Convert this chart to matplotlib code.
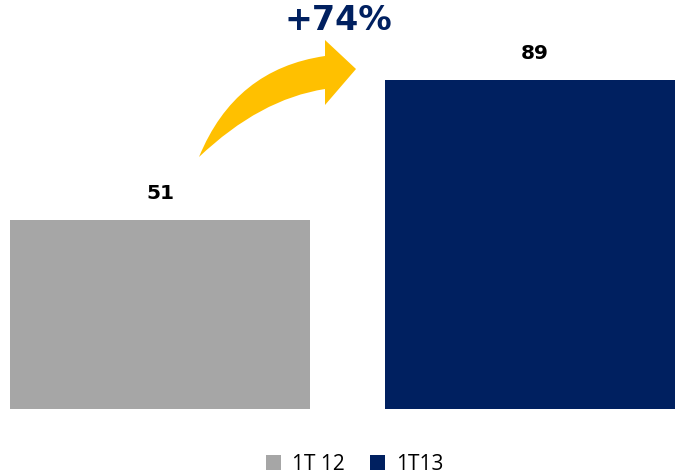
import matplotlib
matplotlib.use("Agg")
import matplotlib.pyplot as plt
from matplotlib.path import Path
from matplotlib.patches import PathPatch, Patch

categories = ["1T 12", "1T13"]
values = [51, 89]
colors = ["#A6A6A6", "#002060"]
growth_label = "+74%"

W, H = 675, 477
fig = plt.figure(figsize=(W / 100, H / 100), dpi=100)
ax = fig.add_axes([0, (H - 410) / H, 1, 410 / H])
x = list(range(len(values)))
bars = ax.bar(x, values, width=0.8, color=colors)
ax.set_xlim(-0.4267, 1.3733)
ax.set_ylim(0, 110.9)
ax.axis("off")

for xi, v in zip(x, values):
    ax.annotate(f"{v}", (xi, v), xytext=(0, 13), textcoords="offset points",
                ha="center", va="bottom", fontsize=14.5, fontweight="bold",
                family="DejaVu Sans", color="black")

# curved arrow (decoration) in figure pixel coordinates
def P(px, py):
    return (px / W, 1 - py / H)

verts = [P(199, 158), P(235, 70), P(325, 57), P(325, 41), P(356, 70),
         P(325, 106), P(325, 90), P(260, 100), P(199, 158), P(199, 158)]
codes = [Path.MOVETO, Path.CURVE3, Path.CURVE3, Path.LINETO, Path.LINETO,
         Path.LINETO, Path.LINETO, Path.CURVE3, Path.CURVE3, Path.CLOSEPOLY]
fig.patches.append(PathPatch(Path(verts, codes), transform=fig.transFigure,
                             facecolor="#FFC000", edgecolor="none"))

fig.text(338 / W, 1 - 21 / H, growth_label, ha="center", va="center",
         fontsize=24, fontweight="bold", color="#002060", family="DejaVu Sans")

handles = [Patch(facecolor=c, label=l) for c, l in zip(colors, categories)]
fig.legend(handles=handles, loc="center", bbox_to_anchor=(0.525, 1 - 465 / H),
           ncol=2, frameon=False, handlelength=0.75, handleheight=0.75,
           handletextpad=0.5, columnspacing=1.2, prop={"family": "Open Sans", "size": 15})

fig.savefig("out.png", dpi=100)
